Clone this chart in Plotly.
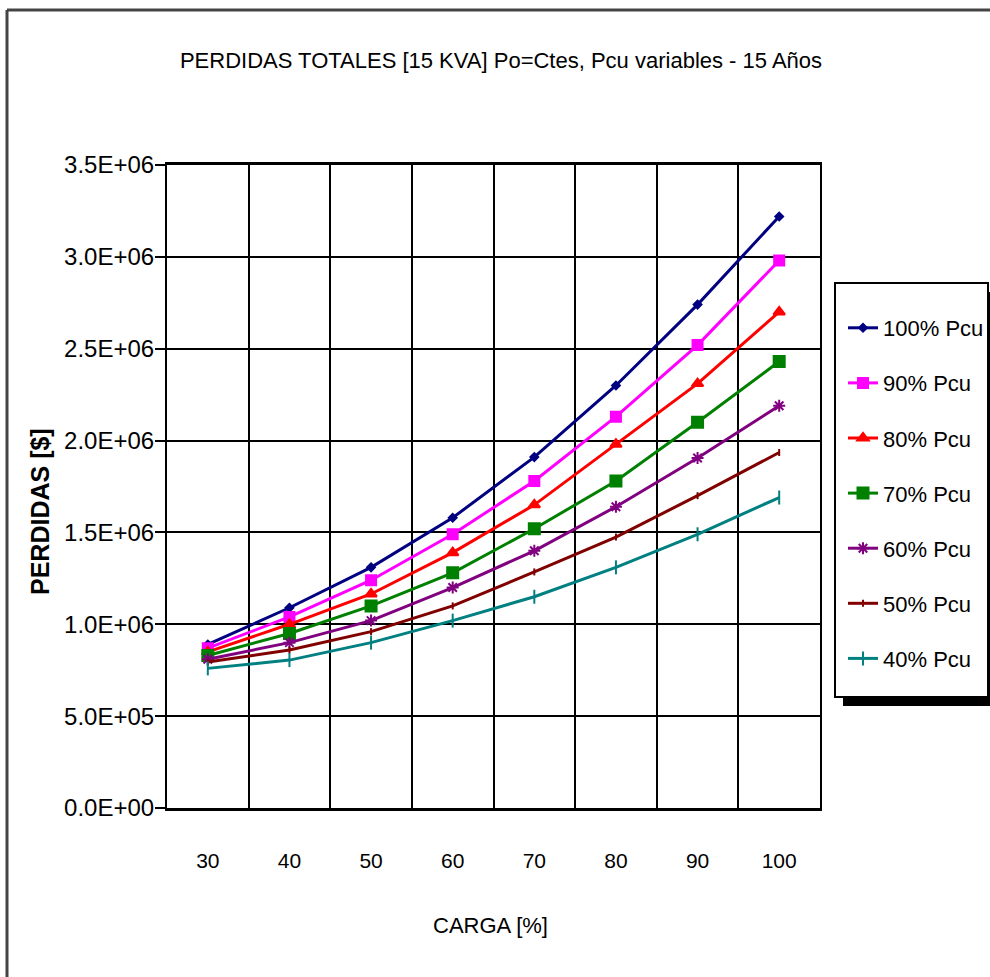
import plotly.graph_objects as go

# ---- data ----
carga = ["30", "40", "50", "60", "70", "80", "90", "100"]
series_names = ["100% Pcu", "90% Pcu", "80% Pcu", "70% Pcu", "60% Pcu", "50% Pcu", "40% Pcu"]
pcu100 = [0.89e6, 1.09e6, 1.31e6, 1.58e6, 1.91e6, 2.30e6, 2.74e6, 3.22e6]
pcu90 = [0.87e6, 1.04e6, 1.24e6, 1.49e6, 1.78e6, 2.13e6, 2.52e6, 2.98e6]
pcu80 = [0.85e6, 1.00e6, 1.165e6, 1.39e6, 1.65e6, 1.98e6, 2.31e6, 2.70e6]
pcu70 = [0.83e6, 0.95e6, 1.10e6, 1.28e6, 1.52e6, 1.78e6, 2.10e6, 2.43e6]
pcu60 = [0.81e6, 0.90e6, 1.02e6, 1.20e6, 1.40e6, 1.64e6, 1.905e6, 2.19e6]
pcu50 = [0.795e6, 0.86e6, 0.96e6, 1.10e6, 1.285e6, 1.475e6, 1.70e6, 1.935e6]
pcu40 = [0.76e6, 0.805e6, 0.90e6, 1.02e6, 1.15e6, 1.31e6, 1.49e6, 1.69e6]
y_ticks = [0, 0.5e6, 1.0e6, 1.5e6, 2.0e6, 2.5e6, 3.0e6, 3.5e6]

all_series = [pcu100, pcu90, pcu80, pcu70, pcu60, pcu50, pcu40]
colors = ["#000080", "#FF00FF", "#FF0000", "#008000", "#800080", "#800000", "#008080"]
symbols = ["diamond", "square", "triangle-up", "square", "asterisk", "line-ns", "line-ns"]
sizes = [6, 10, 10, 11, 10, 5, 10]

FONT = "Liberation Sans, Arial, sans-serif"

W, H = 990, 977
L, R, T, B = 167, 820, 165, 808

def px(xp):
    return (xp - L) / (R - L)

def py(yp):
    return (B - yp) / (B - T)

fig = go.Figure()
for name, vals, c, s, sz in zip(series_names, all_series, colors, symbols, sizes):
    fig.add_trace(go.Scatter(
        x=carga, y=vals, name=name, mode="lines+markers", legendgroup=name,
        line=dict(color=c, width=3),
        marker=dict(symbol=s, size=sz, color=c, line=dict(color=c, width=2)),
    ))

shapes = [
    # outer chart frame (left and top edges)
    dict(type="line", xref="paper", yref="paper", x0=px(7), x1=px(7), y0=py(10), y1=py(977),
         line=dict(color="#444444", width=3)),
    dict(type="line", xref="paper", yref="paper", x0=px(7), x1=px(990), y0=py(10), y1=py(10),
         line=dict(color="#444444", width=3)),
    # legend shadow
    dict(type="rect", xref="paper", yref="paper", x0=px(843), x1=px(997), y0=py(292), y1=py(706),
         fillcolor="black", line=dict(width=0), layer="above"),
    # legend box
    dict(type="rect", xref="paper", yref="paper", x0=px(835), x1=px(988), y0=py(283), y1=py(697),
         fillcolor="white", line=dict(color="black", width=2), layer="above"),
]

annotations = [
    dict(text="PERDIDAS [$]", xref="paper", yref="paper", x=px(40), y=py(512),
         textangle=-90, showarrow=False, xanchor="center", yanchor="middle",
         font=dict(family=FONT, size=25, color="black", weight="bold")),
    dict(text="CARGA [%]", xref="paper", yref="paper", x=px(490), y=py(925),
         showarrow=False, xanchor="center", yanchor="middle",
         font=dict(family=FONT, size=22, color="black")),
]

fig.update_layout(
    width=W, height=H,
    margin=dict(l=L, r=W - R, t=T, b=H - B, autoexpand=False),
    paper_bgcolor="white", plot_bgcolor="white",
    title=dict(text="PERDIDAS TOTALES [15 KVA] Po=Ctes, Pcu variables - 15 Años",
               x=501 / W, y=1 - 60 / H, xanchor="center", yanchor="middle",
               font=dict(family=FONT, size=22, color="black")),
    font=dict(family=FONT, color="black"),
    showlegend=True,
    legend=dict(xref="container", yref="container", x=843 / W, y=1 - 307 / H,
                xanchor="left", yanchor="top",
                bgcolor="rgba(0,0,0,0)", borderwidth=0,
                font=dict(family=FONT, size=22, color="black"),
                tracegroupgap=23.5, traceorder="grouped"),
    shapes=shapes, annotations=annotations,
)

fig.update_xaxes(
    type="category", tickson="boundaries", showgrid=True, gridcolor="black", gridwidth=2,
    showline=True, linecolor="black", linewidth=3, mirror=True,
    ticks="", tickfont=dict(family=FONT, size=21, color="black"),
    ticklabelstandoff=32, range=[-0.5, 7.5],
)
fig.update_yaxes(
    range=[0, 3.5e6], tickvals=y_ticks, ticktext=[f"{v:.1E}" for v in y_ticks],
    showgrid=True, gridcolor="black", gridwidth=2,
    showline=True, linecolor="black", linewidth=2, mirror=True,
    ticks="outside", ticklen=10, tickwidth=2, tickcolor="black",
    tickfont=dict(family=FONT, size=24, color="black"),
    ticklabelstandoff=-4,
    zeroline=False,
)

fig.write_html("out.html")
